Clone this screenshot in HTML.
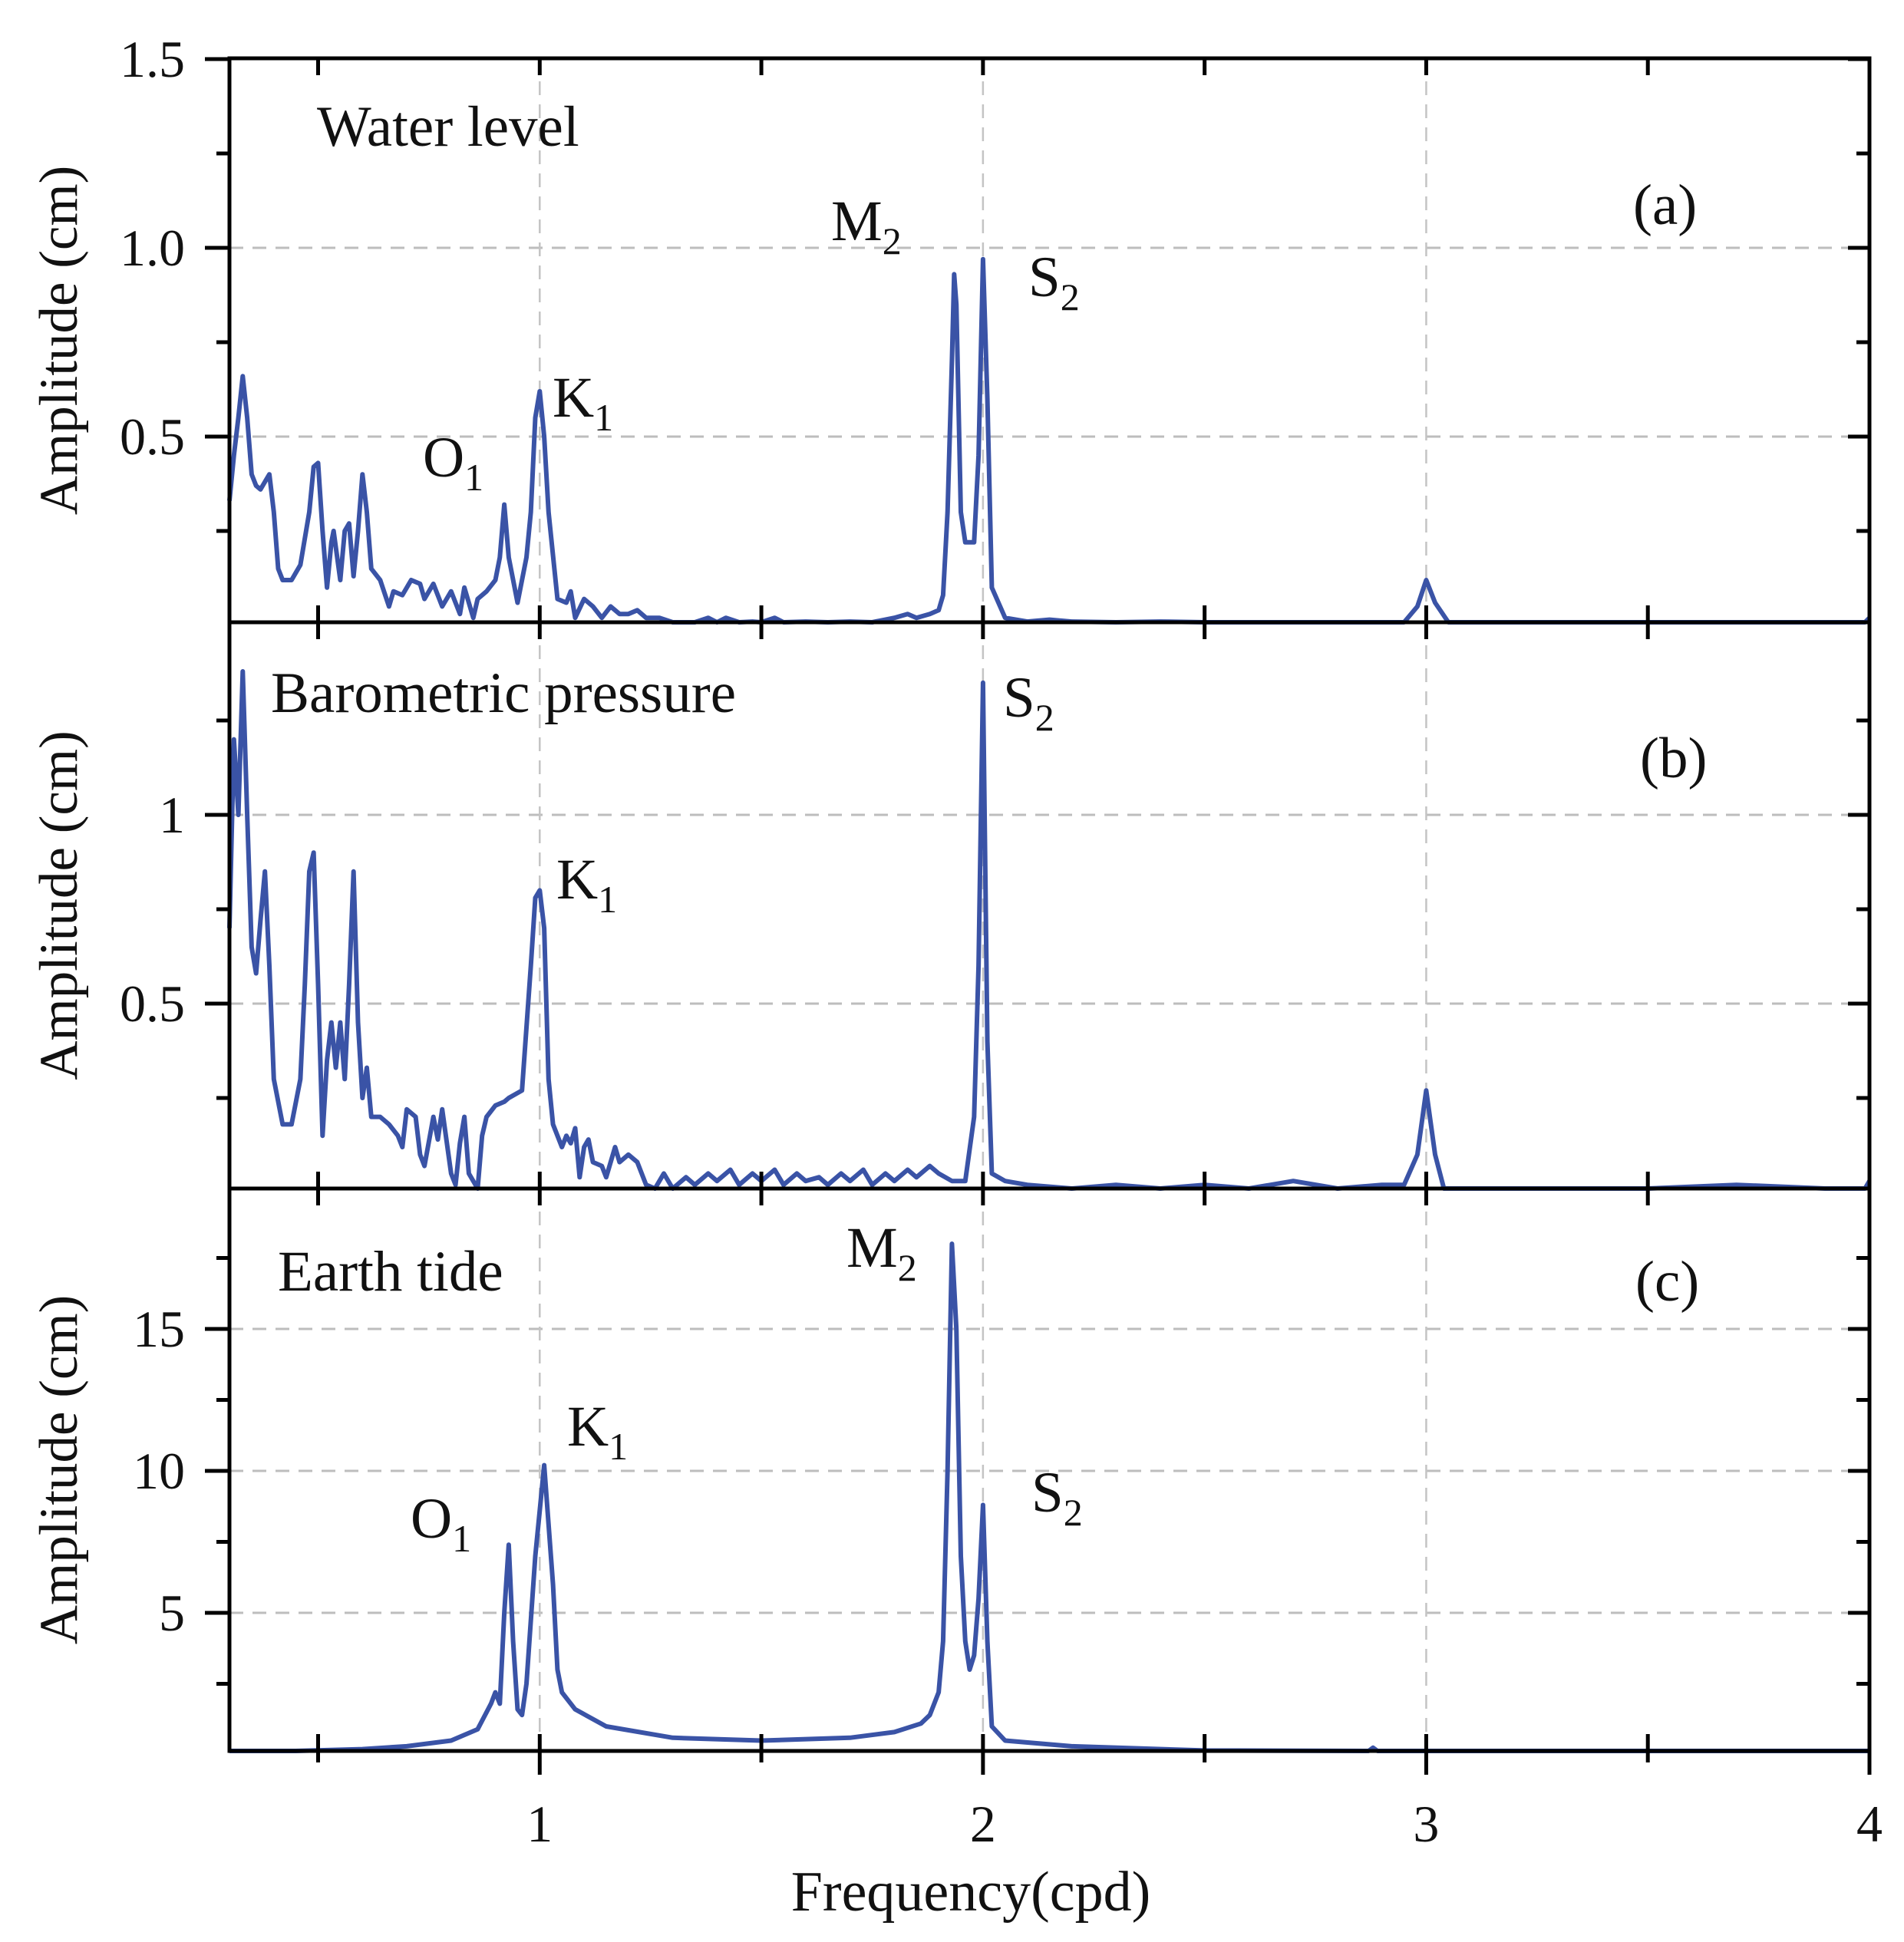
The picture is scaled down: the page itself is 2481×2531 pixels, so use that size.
<!DOCTYPE html>
<html><head><meta charset="utf-8">
<style>
html,body{margin:0;padding:0;background:#fff;}
svg{display:block;}
text{font-family:"Liberation Serif",serif;fill:#111;}
</style></head>
<body>
<svg id="chart" width="2481" height="2531" viewBox="0 0 2481 2531" xmlns="http://www.w3.org/2000/svg">
<g id="grid"></g>
<g id="series"></g>
<g id="axes"></g>
<g id="labels"></g>
</svg>
<script>
const xTicks = [1, 2, 3, 4];
const xMinorTicks = [0.5, 1.5, 2.5, 3.5];
const xTickLabels = ["1", "2", "3", "4"];

const wlFreq = [0.30,0.31,0.32,0.33,0.34,0.35,0.36,0.37,0.38,0.39,0.40,0.41,0.42,0.44,0.46,0.48,0.49,0.50,0.51,0.52,0.53,0.535,0.55,0.56,0.57,0.58,0.59,0.60,0.61,0.62,0.64,0.66,0.67,0.69,0.71,0.73,0.74,0.76,0.78,0.80,0.82,0.83,0.85,0.86,0.88,0.90,0.91,0.92,0.93,0.95,0.97,0.98,0.99,1.00,1.01,1.02,1.04,1.06,1.07,1.08,1.10,1.12,1.14,1.16,1.18,1.20,1.22,1.24,1.27,1.30,1.35,1.38,1.40,1.42,1.45,1.48,1.50,1.53,1.55,1.60,1.65,1.70,1.75,1.80,1.83,1.85,1.88,1.90,1.91,1.92,1.93,1.935,1.94,1.95,1.96,1.98,1.99,2.00,2.01,2.02,2.05,2.10,2.15,2.20,2.30,2.40,2.50,2.60,2.70,2.80,2.90,2.95,2.98,3.00,3.02,3.05,3.10,3.30,3.50,3.70,3.90,3.99,4.00];
const wlAmp  = [0.33,0.45,0.55,0.66,0.55,0.40,0.37,0.36,0.38,0.40,0.30,0.15,0.12,0.12,0.16,0.30,0.42,0.43,0.25,0.10,0.22,0.25,0.12,0.25,0.27,0.13,0.25,0.40,0.30,0.15,0.12,0.05,0.09,0.08,0.12,0.11,0.07,0.11,0.05,0.09,0.03,0.10,0.02,0.07,0.09,0.12,0.18,0.32,0.18,0.06,0.18,0.30,0.55,0.62,0.50,0.30,0.07,0.06,0.09,0.02,0.07,0.05,0.02,0.05,0.03,0.03,0.04,0.02,0.02,0.005,0.005,0.02,0.005,0.02,0.005,0.01,0.005,0.02,0.005,0.01,0.005,0.01,0.005,0.02,0.03,0.02,0.03,0.04,0.08,0.30,0.70,0.93,0.85,0.30,0.22,0.22,0.45,0.97,0.60,0.10,0.02,0.01,0.015,0.01,0.005,0.01,0.005,0.005,0.005,0.005,0.005,0.005,0.05,0.12,0.06,0.005,0.005,0.005,0.005,0.005,0.005,0.005,0.02];

const bpFreq = [0.30,0.31,0.32,0.33,0.34,0.35,0.36,0.37,0.38,0.39,0.40,0.42,0.44,0.46,0.47,0.48,0.49,0.50,0.51,0.52,0.53,0.54,0.55,0.56,0.57,0.58,0.59,0.60,0.61,0.62,0.64,0.66,0.68,0.69,0.70,0.72,0.73,0.74,0.76,0.77,0.78,0.80,0.81,0.82,0.83,0.84,0.86,0.87,0.88,0.90,0.92,0.93,0.96,0.98,0.99,1.00,1.01,1.02,1.03,1.05,1.06,1.07,1.08,1.09,1.10,1.11,1.12,1.14,1.15,1.17,1.18,1.20,1.22,1.24,1.26,1.28,1.30,1.33,1.35,1.38,1.40,1.43,1.45,1.48,1.50,1.53,1.55,1.58,1.60,1.63,1.65,1.68,1.70,1.73,1.75,1.78,1.80,1.83,1.85,1.88,1.90,1.93,1.96,1.98,1.99,2.00,2.01,2.02,2.05,2.10,2.20,2.30,2.40,2.50,2.60,2.70,2.80,2.90,2.95,2.98,3.00,3.02,3.04,3.10,3.30,3.50,3.70,3.90,3.99,4.00];
const bpAmp  = [0.70,1.20,1.00,1.38,1.00,0.65,0.58,0.72,0.85,0.60,0.30,0.18,0.18,0.30,0.55,0.85,0.90,0.55,0.15,0.35,0.45,0.33,0.45,0.30,0.55,0.85,0.45,0.25,0.33,0.20,0.20,0.18,0.15,0.12,0.22,0.20,0.10,0.07,0.20,0.14,0.22,0.05,0.02,0.13,0.20,0.05,0.00,0.15,0.20,0.23,0.24,0.25,0.27,0.60,0.78,0.80,0.70,0.30,0.18,0.12,0.15,0.13,0.17,0.04,0.12,0.14,0.08,0.07,0.04,0.12,0.08,0.10,0.08,0.02,0.01,0.05,0.01,0.04,0.02,0.05,0.03,0.06,0.02,0.05,0.03,0.06,0.02,0.05,0.03,0.04,0.02,0.05,0.03,0.06,0.02,0.05,0.03,0.06,0.04,0.07,0.05,0.03,0.03,0.20,0.60,1.35,0.40,0.05,0.03,0.02,0.01,0.02,0.01,0.02,0.01,0.03,0.01,0.02,0.02,0.10,0.27,0.10,0.01,0.01,0.01,0.01,0.02,0.01,0.01,0.03];

const etFreq = [0.30,0.45,0.60,0.70,0.80,0.86,0.89,0.90,0.91,0.92,0.93,0.94,0.95,0.96,0.97,0.99,1.01,1.03,1.04,1.05,1.08,1.15,1.30,1.50,1.70,1.80,1.86,1.88,1.90,1.91,1.92,1.93,1.94,1.95,1.96,1.97,1.98,1.99,2.00,2.01,2.02,2.05,2.20,2.50,2.87,2.88,2.89,3.00,3.50,4.00];
const etAmp  = [0.05,0.10,0.20,0.30,0.50,0.90,1.80,2.20,1.80,5.00,7.40,4.00,1.60,1.40,2.50,7.00,10.20,6.00,3.00,2.20,1.60,1.00,0.60,0.50,0.60,0.80,1.10,1.40,2.20,4.00,10.0,18.0,15.0,7.00,4.00,3.00,3.50,5.50,8.80,4.00,1.00,0.50,0.30,0.15,0.07,0.25,0.05,0.05,0.04,0.03];

const panelA_ticks = [0.5, 1.0, 1.5], panelA_labels = ["0.5","1.0","1.5"], panelA_minor=[0.25,0.75,1.25];
const panelB_ticks = [0.5, 1], panelB_labels = ["0.5","1"], panelB_minor=[0.25,0.75,1.25];
const panelC_ticks = [5,10,15], panelC_labels = ["5","10","15"], panelC_minor=[2.5,7.5,12.5,17.5];

const NS = "http://www.w3.org/2000/svg";
const L = 299, R = 2436, X0 = 0.3, X1 = 4.0;
function xs(f){ return L + (f - X0) / (X1 - X0) * (R - L); }
function mk(tag, attrs, parent){ const e=document.createElementNS(NS,tag); for(const k in attrs) e.setAttribute(k,attrs[k]); parent.appendChild(e); return e; }

const panels = [
  {id:"a", top:76, bot:811, zero:815, per:492, ticks:panelA_ticks, labels:panelA_labels, minor:panelA_minor, fx:wlFreq, fy:wlAmp},
  {id:"b", top:811, bot:1549, zero:1554, per:492, ticks:panelB_ticks, labels:panelB_labels, minor:panelB_minor, fx:bpFreq, fy:bpAmp},
  {id:"c", top:1549, bot:2282, zero:2287, per:37, ticks:panelC_ticks, labels:panelC_labels, minor:panelC_minor, fx:etFreq, fy:etAmp}
];
const gG=document.getElementById('grid'), gS=document.getElementById('series'), gA=document.getElementById('axes'), gL=document.getElementById('labels');

panels.forEach(p=>{
  const ys = v => Math.min(p.bot, p.zero - v*p.per);
  p.ticks.forEach(t=>{
    const y=ys(t);
    if (y>p.top+2){
      const ln=mk('line',{x1:L,x2:R,y1:y,y2:y,stroke:'#bdbdbd','stroke-width':3,'stroke-dasharray':'18 12'},gG);
      
      
    }
  });
  xTicks.slice(0,3).forEach(t=>{
    const ln=mk('line',{x1:xs(t),x2:xs(t),y1:p.top,y2:p.bot,stroke:'#c4c4c4','stroke-width':2.5,'stroke-dasharray':'18 12'},gG);
    
    
  });
  let d='';
  p.fx.forEach((f,i)=>{ d += (i?'L':'M') + xs(f).toFixed(1) + ' ' + ys(p.fy[i]).toFixed(1) + ' '; });
  const path=mk('path',{d:d,fill:'none',stroke:'#3a53a6','stroke-width':6,'stroke-linejoin':'round'},gS);
  
  
  const fr=mk('rect',{x:L,y:p.top,width:R-L,height:p.bot-p.top,fill:'none',stroke:'#000','stroke-width':5},gA);
  
  
  p.ticks.forEach((t,i)=>{
    const y=ys(t);
    mk('line',{x1:L-32,x2:L,y1:y,y2:y,stroke:'#000','stroke-width':5},gA);
    mk('line',{x1:R,x2:R-28,y1:y,y2:y,stroke:'#000','stroke-width':5},gA);
    const tx=mk('text',{x:L-58,y:y+23,'font-size':68,'text-anchor':'end'},gL);
    tx.textContent=p.labels[i];
    
    
  });
  p.minor.forEach(t=>{
    const y=p.zero - t*p.per;
    if(y>p.top+5 && y<p.bot-5){
      mk('line',{x1:L-17,x2:L,y1:y,y2:y,stroke:'#000','stroke-width':5},gA);
      mk('line',{x1:R,x2:R-17,y1:y,y2:y,stroke:'#000','stroke-width':5},gA);
    }
  });
  xTicks.concat(xMinorTicks).forEach(t=>{
    const x=xs(t);
    if (x>R-3) return;
    mk('line',{x1:x,x2:x,y1:p.top,y2:p.top+22,stroke:'#000','stroke-width':5},gA);
    mk('line',{x1:x,x2:x,y1:p.bot,y2:p.bot-22,stroke:'#000','stroke-width':5},gA);
  });
  const cy=(p.top+p.bot)/2;
  const yt=mk('text',{x:0,y:0,'font-size':71,'text-anchor':'middle',transform:`translate(100 ${cy}) rotate(-90)`},gL);
  yt.textContent='Amplitude (cm)';
  
  
});
xTicks.forEach((t,i)=>{
  const x=xs(t);
  mk('line',{x1:x,x2:x,y1:2282,y2:2313,stroke:'#000','stroke-width':5},gA);
  const tx=mk('text',{x:x,y:2400,'font-size':68,'text-anchor':'middle'},gL);
  tx.textContent=xTickLabels[i];
  
  
});
xMinorTicks.forEach(t=>{ const x=xs(t); mk('line',{x1:x,x2:x,y1:2282,y2:2297,stroke:'#000','stroke-width':5},gA); });

const anns = [
  ["Water level",413,190,null,"panel-a-title"],
  ["(a)",2128,292,null,"panel-a-letter"],
  ["M",1083,313,"2","m2-label-a"],
  ["S",1340,386,"2","s2-label-a"],
  ["K",720,543,"1","k1-label-a"],
  ["O",551,621,"1","o1-label-a"],
  ["Barometric pressure",353,928,null,"panel-b-title"],
  ["S",1307,934,"2","s2-label-b"],
  ["(b)",2137,1013,null,"panel-b-letter"],
  ["K",725,1171,"1","k1-label-b"],
  ["Earth tide",362,1682,null,"panel-c-title"],
  ["M",1103,1651,"2","m2-label-c"],
  ["(c)",2131,1695,null,"panel-c-letter"],
  ["K",739,1884,"1","k1-label-c"],
  ["O",535,2004,"1","o1-label-c"],
  ["S",1344,1970,"2","s2-label-c"]
];
anns.forEach(a=>{
  const t=mk('text',{x:a[1],y:a[2],'font-size':75},gL);
  t.textContent=a[0];
  if(a[3]){ const s=document.createElementNS(NS,'tspan'); s.setAttribute('font-size',50); s.setAttribute('dy',18); s.textContent=a[3]; t.appendChild(s); }
  
  
});
const xt=mk('text',{x:1265,y:2490,'font-size':74,'text-anchor':'middle'},gL);
xt.textContent='Frequency(cpd)';


</script>
</body></html>
